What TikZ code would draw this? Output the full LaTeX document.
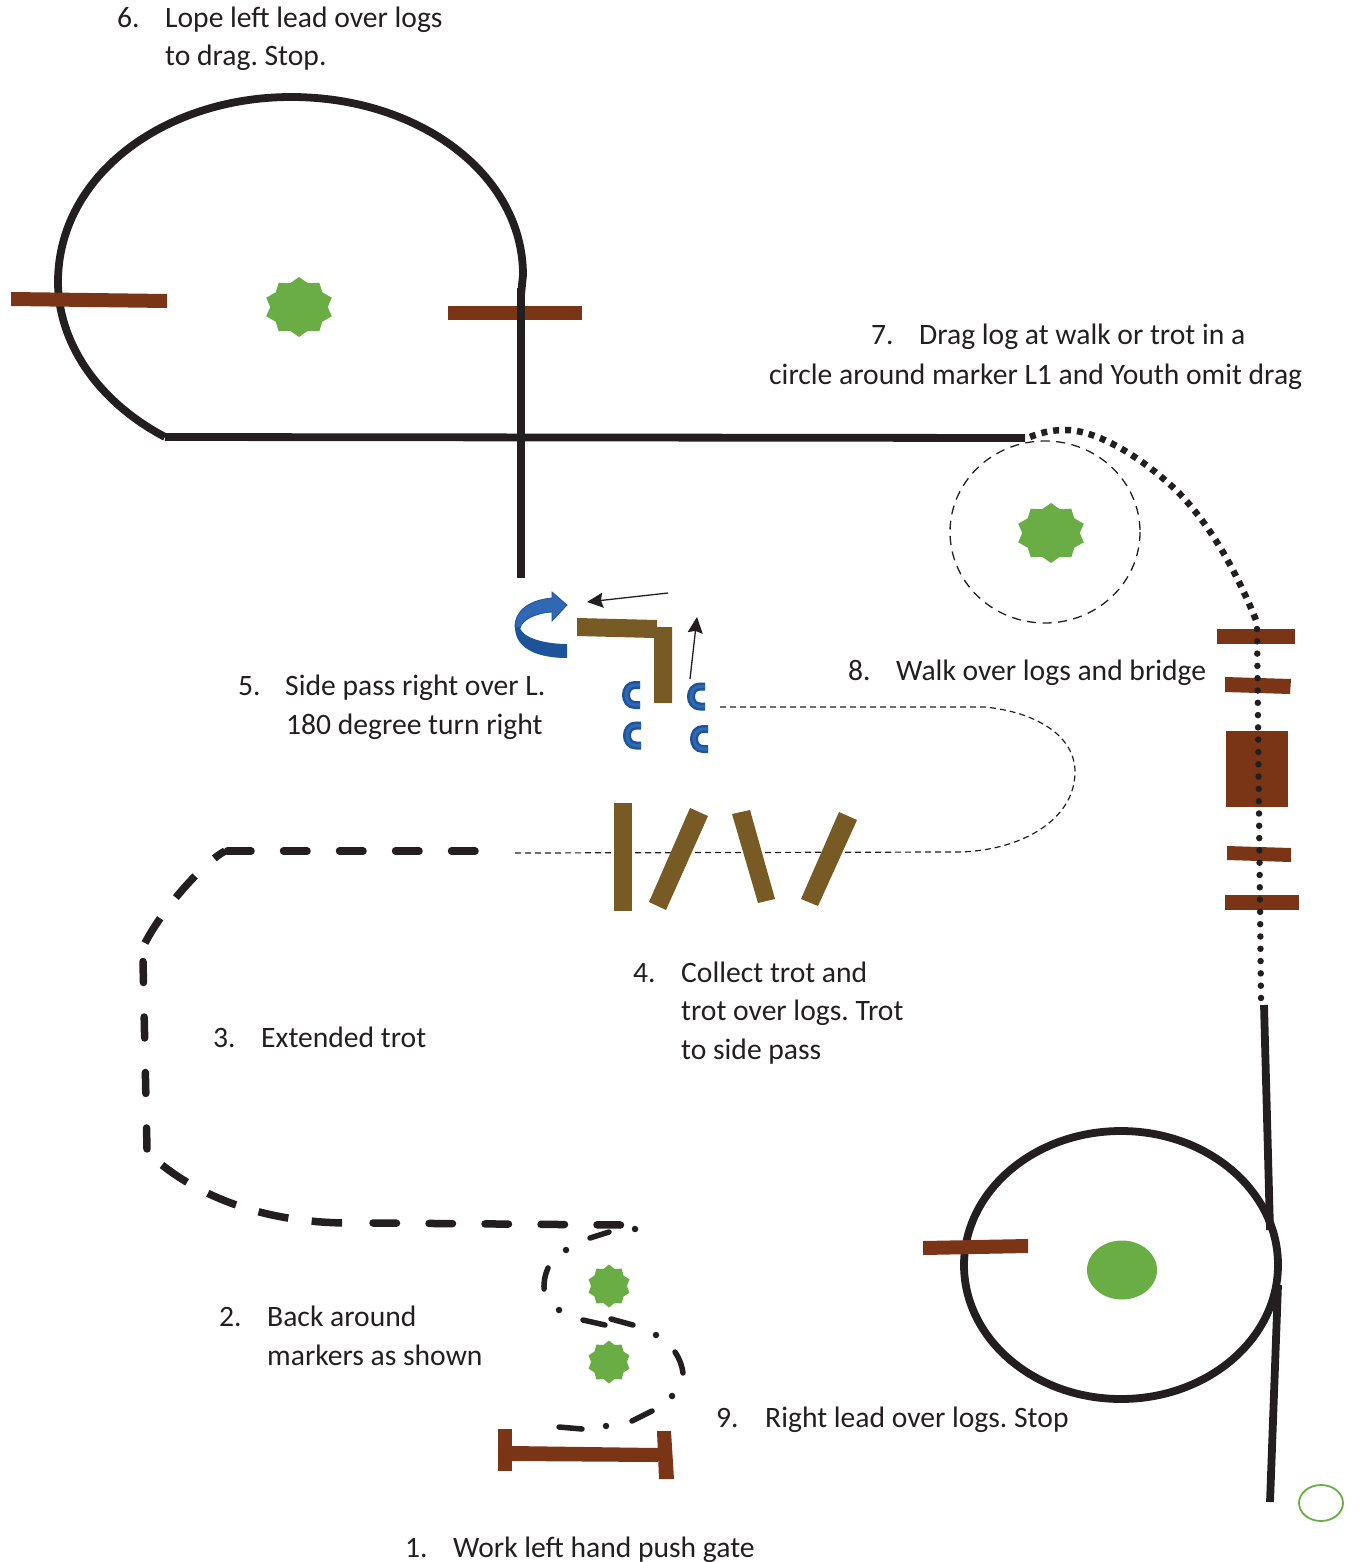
\documentclass[tikz,border=0pt]{standalone}
\usepackage{fontspec}
\setmainfont{Carlito}
\usetikzlibrary{shapes.geometric,arrows.meta}
\frenchspacing

\definecolor{trackblack}{HTML}{231F20}
\definecolor{markergreen}{HTML}{6AAD45}
\definecolor{barbrown}{HTML}{7A3517}
\definecolor{logolive}{HTML}{775A24}
\definecolor{turnblue}{HTML}{1C5399}
\definecolor{turnlight}{HTML}{3068B4}

\tikzset{
    steptext/.style={anchor=base west, inner sep=0pt, text=trackblack, font=\fontsize{29.6}{34}\selectfont},
    solidtrack/.style={draw=trackblack, line width=7.8pt},
    dashtrack/.style={draw=trackblack, line width=7.5pt, line cap=round, dash pattern=on 23.5pt off 32.5pt},
    bendtrack/.style={draw=trackblack, line width=7.5pt},
    dottrack/.style={draw=trackblack, line width=6.5pt, line cap=round, dash pattern=on 0pt off 12.3pt},
    thintrack/.style={draw=trackblack, line width=1.2pt, dash pattern=on 6pt off 4pt},
    barshape/.style={fill=barbrown},
    logshape/.style={fill=logolive},
    bigmarker/.style={star, star points=10, star point ratio=1.2, minimum size=69pt, inner sep=0pt, fill=markergreen, yscale=0.87},
    smallmarker/.style={star, star points=10, star point ratio=1.2, minimum size=43pt, inner sep=0pt, fill=markergreen},
    pointer/.style={draw=trackblack, line width=1.3pt, -{Stealth[length=16pt,width=15pt,inset=2pt]}},
    trackdot/.style={fill=trackblack, circle, inner sep=0pt, minimum size=6.5pt},
    backcup/.pic={
        \draw[turnblue, line width=8pt] (9,-10) -- (4,-10) .. controls (-8,-10) and (-8,10) .. (4,10) -- (9,10);
        \draw[turnlight, line width=3.2pt] (9,-10) -- (4,-10) .. controls (-8,-10) and (-8,10) .. (4,10) -- (9,10);
    }
}

\begin{document}
\begin{tikzpicture}[x=1pt,y=-1pt]
    \useasboundingbox (0,0) rectangle (1359,1562);

    % Lope circle and lines
    \draw[solidtrack] (165,437) .. controls (95,400) and (58,340) .. (58,282) .. controls (58,175) and (165,97) .. (291,97) .. controls (420,97) and (523,175) .. (523,275) -- (521,295);
    \draw[solidtrack] (521,288) -- (521,578);
    \draw[solidtrack] (165,437) -- (1025,438);

    % Bars on the lope circle
    \fill[barshape] (11,292) -- (167,294) -- (167,308) -- (11,306) -- cycle;
    \fill[barshape] (448,306) rectangle (582,320);
    \draw[solidtrack] (521,288) -- (521,330);
    \node[bigmarker] (markerlope) at (299,307) {};

    % Drag circle
    \draw[thintrack, line width=1.3pt, dash pattern=on 9pt off 6.5pt] (1045,532) ellipse [x radius=95, y radius=91];
    \node[bigmarker] (markerdrag) at (1051,533) {};
    \draw[draw=trackblack, line width=6.5pt, dash pattern=on 6pt off 6pt] (1030,437) .. controls (1045,431) and (1055,430) .. (1067,430) .. controls (1100,431) and (1145,460) .. (1178,492) .. controls (1215,530) and (1240,580) .. (1258,625);

    % Logs and bridge on the right
    \fill[barshape] (1217,629) rectangle (1295,644);
    \fill[barshape] (1225,677) -- (1291,679) -- (1290,694) -- (1225,692) -- cycle;
    \fill[barshape] (1226,731) rectangle (1288,807);
    \fill[barshape] (1227,846) -- (1291,848) -- (1291,862) -- (1227,860) -- cycle;
    \fill[barshape] (1225,895) rectangle (1299,910);
    \draw[dottrack] (1257,629) -- (1261,998);

    % Right lead circle
    \draw[solidtrack] (1264,1005) -- (1270,1230);
    \draw[solidtrack] (1278,1285) -- (1270,1502);
    \draw[solidtrack] (1121,1265) ellipse [x radius=157, y radius=134];
    \fill[barshape] (923,1241) -- (1028,1239) -- (1028,1253) -- (923,1255) -- cycle;
    \node[ellipse, fill=markergreen, minimum width=70pt, minimum height=59pt, inner sep=0pt] (markerlead) at (1122,1270) {};
    \node[ellipse, draw=markergreen, line width=1.8pt, minimum width=44pt, minimum height=36pt, inner sep=0pt] (finish) at (1321,1503) {};

    % Thin path from logs to side pass
    \draw[thintrack] (720,707) -- (985,707) .. controls (1035,712) and (1075,735) .. (1075,772) .. controls (1075,820) and (1020,852) .. (955,852) -- (515,853);

    % Trot logs
    \fill[logshape] (614,803) rectangle (632,911);
    \fill[logshape] (690,808) -- (708,816) -- (666,910) -- (649,902) -- cycle;
    \fill[logshape] (732,814) -- (750,810) -- (775,899) -- (758,903) -- cycle;
    \fill[logshape] (839,812) -- (857,820) -- (818,906) -- (801,899) -- cycle;

    % Side pass L
    \fill[logshape] (577,618) -- (657,620) -- (657,627) -- (672,627) -- (672,703) -- (654,703) -- (654,638) -- (577,636) -- cycle;
    \foreach \x/\y in {631/695,696/696.5,632/735.5,699/739} {
        \pic at (\x,\y) {backcup};
    }
    \coordinate (sidefrom) at (668,593);
    \coordinate (sideto) at (587,602);
    \coordinate (upfrom) at (690,679);
    \coordinate (upto) at (697,617);
    \draw[pointer] (sidefrom) -- (sideto);
    \draw[pointer] (upfrom) -- (upto);

    % Turn arrow
    \fill[turnblue] (515,627) .. controls (515,650) and (540,658) .. (567,658) -- (567,644) .. controls (545,644) and (523,638) .. (520,628) -- cycle;
    \fill[turnlight, draw=turnblue, line width=0.8pt] (515,627) .. controls (515,610) and (530,600) .. (552,598) -- (552,592) -- (567,605) -- (552,621) -- (552,612) .. controls (535,613) and (522,620) .. (520,628) -- cycle;

    % Extended trot
    \draw[dashtrack] (475,851) -- (227,851);
    \draw[bendtrack, dash pattern=on 13pt off 26pt on 29pt off 26pt on 31pt off 60pt] (225,851) .. controls (205,862) and (165,905) .. (145,943);
    \draw[dashtrack, dash pattern=on 21pt off 34.5pt] (143,961.5) -- (147,1149.5);
    \draw[bendtrack, dash pattern=on 30.5pt off 23.5pt] (162,1165) .. controls (200,1195) and (260,1222) .. (346,1223);
    \draw[dashtrack] (373,1223) -- (622,1225);

    % Back around markers
    \node[smallmarker] (markerone) at (609,1286) {};
    \node[smallmarker] (markertwo) at (609,1362) {};
    \begin{scope}[draw=trackblack, line width=5.5pt, line cap=round]
        \draw (590,1238) -- (609,1232);
        \draw (548,1268) to[bend right=12] (544,1289);
        \draw (583,1320) -- (605,1325);
        \draw (611,1319) -- (633,1325);
        \draw (675,1352) to[bend left=12] (683,1373);
        \draw (652,1411) -- (632,1421);
        \draw (582,1429) -- (559,1427);
    \end{scope}
    \foreach \x/\y in {635/1229,566/1250,559/1310,656/1335,672/1396,606/1426} {
        \node[trackdot] at (\x,\y) {};
    }

    % Gate
    \fill[barshape] (498,1429) rectangle (512,1471);
    \fill[barshape] (657,1431) -- (671,1431) -- (674,1479) -- (659,1479) -- cycle;
    \fill[barshape] (512,1446) -- (658,1448) -- (658,1462) -- (512,1461) -- cycle;

    % Labels
    \node[steptext] (numsix) at (117,28) {6.};
    \node[steptext] (stepsix) at (165,28) {Lope left lead over logs};
    \node[steptext] (stepsixb) at (165,66) {to drag. Stop.};
    \node[steptext] (numseven) at (871,344.5) {7.};
    \node[steptext] (stepseven) at (919,344.5) {Drag log at walk or trot in a};
    \node[steptext] (stepsevenb) at (769,384.5) {circle around marker L1 and Youth omit drag};
    \node[steptext] (numfive) at (238,695.5) {5.};
    \node[steptext] (stepfive) at (285,695.5) {Side pass right over L.};
    \node[steptext] (stepfiveb) at (286,734.5) {180 degree turn right};
    \node[steptext] (numeight) at (848,680.5) {8.};
    \node[steptext] (stepeight) at (896,680.5) {Walk over logs and bridge};
    \node[steptext] (numfour) at (633,982.5) {4.};
    \node[steptext] (stepfour) at (681,982.5) {Collect trot and};
    \node[steptext] (stepfourb) at (681,1020.5) {trot over logs. Trot};
    \node[steptext] (stepfourc) at (681,1059.5) {to side pass};
    \node[steptext] (numthree) at (213,1047.5) {3.};
    \node[steptext] (stepthree) at (261,1047.5) {Extended trot};
    \node[steptext] (numtwo) at (219,1326.5) {2.};
    \node[steptext] (steptwo) at (267,1326.5) {Back around};
    \node[steptext] (steptwob) at (267,1365.5) {markers as shown};
    \node[steptext] (numnine) at (716,1427.5) {9.};
    \node[steptext] (stepnine) at (765,1427.5) {Right lead over logs. Stop};
    \node[steptext] (numone) at (405,1557.5) {1.};
    \node[steptext] (stepone) at (453,1557.5) {Work left hand push gate};
\end{tikzpicture}
\end{document}
